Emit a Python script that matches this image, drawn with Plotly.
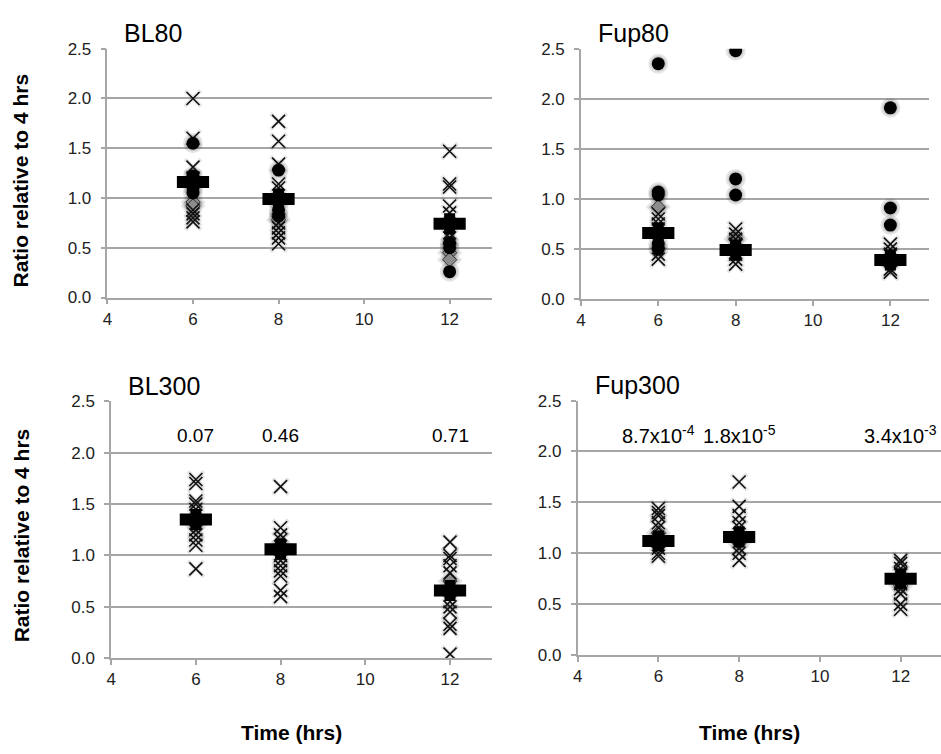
import plotly.graph_objects as go

TIMES = [6, 8, 12]
X_TICKS = [4, 6, 8, 10, 12]
Y_TICKS = [0.0, 0.5, 1.0, 1.5, 2.0, 2.5]
PANELS = ["BL80", "Fup80", "BL300", "Fup300"]

# values per time point (6, 8, 12 h)
bl80_xmark = [[2.0, 1.6, 1.31, 1.2, 0.88, 0.84, 0.8, 0.76],
              [1.77, 1.57, 1.34, 1.14, 1.1, 0.9, 0.75, 0.7, 0.65, 0.6, 0.54],
              [1.47, 1.14, 1.11, 0.92, 0.85, 0.65, 0.6]]
bl80_circ = [[1.55, 1.22, 1.1, 1.05], [1.28, 0.88, 0.82], [0.55, 0.5, 0.26]]
bl80_diam = [[0.96, 0.92], [0.95, 0.78], [0.45, 0.38]]
bl80_mean = [1.16, 0.99, 0.74]

fup80_xmark = [[0.85, 0.8, 0.75, 0.7, 0.45, 0.4],
               [0.7, 0.65, 0.6, 0.55, 0.45, 0.4, 0.35],
               [0.55, 0.5, 0.45, 0.3, 0.27]]
fup80_circ = [[2.35, 1.07, 1.04, 0.55, 0.5], [2.48, 1.2, 1.04], [1.91, 0.91, 0.74]]
fup80_diam = [[0.92], [0.6], [0.35]]
fup80_mean = [0.66, 0.49, 0.39]

bl300_xmark = [[1.74, 1.70, 1.53, 1.5, 1.45, 1.25, 1.2, 1.15, 1.1, 0.87],
               [1.67, 1.27, 1.2, 1.15, 1.0, 0.95, 0.9, 0.85, 0.8, 0.66, 0.6],
               [1.13, 1.0, 0.97, 0.9, 0.83, 0.55, 0.5, 0.45, 0.33, 0.29, 0.04]]
bl300_circ = [[], [], []]
bl300_diam = [[1.3], [1.1], [0.75]]
bl300_mean = [1.35, 1.06, 0.66]

fup300_xmark = [[1.44, 1.4, 1.37, 1.3, 1.25, 1.05, 1.0, 0.97],
                [1.7, 1.46, 1.37, 1.3, 1.25, 1.05, 1.0, 0.93],
                [0.93, 0.9, 0.85, 0.8, 0.7, 0.65, 0.6, 0.5, 0.45]]
fup300_circ = [[], [], []]
fup300_diam = [[1.2], [1.1], [0.68]]
fup300_mean = [1.12, 1.16, 0.75]

bl300_pvals = ["0.07", "0.46", "0.71"]
fup300_pvals = ["8.7x10<sup>-4</sup>", "1.8x10<sup>-5</sup>", "3.4x10<sup>-3</sup>"]
PVAL_Y = 2.17

W, H = 941, 754
# panel domains in pixels (left, right, top, bottom)
DOMS = [(103, 490, 40.7, 296), (579, 929, 40.7, 297.7),
        (106.7, 490, 402.5, 666), (575.7, 941, 401.7, 662.7)]

data_sets = [
    (bl80_xmark, bl80_circ, bl80_diam, bl80_mean),
    (fup80_xmark, fup80_circ, fup80_diam, fup80_mean),
    (bl300_xmark, bl300_circ, bl300_diam, bl300_mean),
    (fup300_xmark, fup300_circ, fup300_diam, fup300_mean),
]

FONT = "Liberation Sans, Arial, sans-serif"
GRID = "#a6a6a6"
SHADOW = "rgba(0,0,0,0.10)"

fig = go.Figure()


def flat(groups):
    xs, ys = [], []
    for t, vals in zip(TIMES, groups):
        xs += [t] * len(vals)
        ys += vals
    return xs, ys


for i, (xm, ci, di, mn) in enumerate(data_sets):
    sfx = "" if i == 0 else str(i + 1)
    xa, ya = "x" + sfx, "y" + sfx
    # soft shadow layer
    for groups, sym, sz in ((xm, "x-thin-open", 13), (ci, "circle", 13), (di, "diamond", 12)):
        xs, ys = flat(groups)
        fig.add_trace(go.Scatter(
            x=xs, y=ys, mode="markers", xaxis=xa, yaxis=ya, showlegend=False,
            hoverinfo="skip",
            marker=dict(symbol=sym, size=sz + 3, color=SHADOW,
                        line=dict(color=SHADOW, width=4))))
    xs, ys = flat(di)
    fig.add_trace(go.Scatter(x=xs, y=ys, mode="markers", xaxis=xa, yaxis=ya, showlegend=False,
                             marker=dict(symbol="diamond", size=11, color="#8c8c8c",
                                         line=dict(color="#333333", width=1))))
    xs, ys = flat(xm)
    fig.add_trace(go.Scatter(x=xs, y=ys, mode="markers", xaxis=xa, yaxis=ya, showlegend=False,
                             marker=dict(symbol="x-thin-open", size=13, color="#111111",
                                         line=dict(color="#111111", width=1.6))))
    xs, ys = flat(ci)
    fig.add_trace(go.Scatter(x=xs, y=ys, mode="markers", xaxis=xa, yaxis=ya, showlegend=False,
                             marker=dict(symbol="circle", size=13, color="#000000",
                                         line=dict(width=0))))
    # mean: thick plus, wider than tall
    fig.add_trace(go.Scatter(x=TIMES, y=mn, mode="markers", xaxis=xa, yaxis=ya, showlegend=False,
                             marker=dict(symbol="line-ns", size=15, color="#000000",
                                         line=dict(color="#000000", width=11))))
    fig.add_trace(go.Scatter(x=TIMES, y=mn, mode="markers", xaxis=xa, yaxis=ya, showlegend=False,
                             marker=dict(symbol="line-ew", size=23, color="#000000",
                                         line=dict(color="#000000", width=12))))

    l, r, t, b = DOMS[i]
    fig.layout["xaxis" + sfx] = dict(
        domain=[l / W, r / W], anchor=ya, range=[4, 13], tickvals=X_TICKS,
        showgrid=False, showline=True, linecolor=GRID, linewidth=1.5,
        ticks="outside", ticklen=5, tickcolor=GRID, tickwidth=1.5,
        tickfont=dict(family=FONT, size=17, color="#222222"), zeroline=False)
    fig.layout["yaxis" + sfx] = dict(
        domain=[1 - b / H, 1 - t / H], anchor=xa, range=[0, 2.5], tickvals=Y_TICKS,
        tickformat=".1f", showgrid=True, gridcolor=GRID, gridwidth=1.5,
        showline=True, linecolor=GRID, linewidth=1.5,
        ticks="outside", ticklen=5, tickcolor=GRID, tickwidth=1.5,
        ticklabelstandoff=6,
        tickfont=dict(family=FONT, size=17, color="#222222"), zeroline=False)

    # panel title
    fig.add_annotation(text=PANELS[i], xref="paper", yref="paper",
                       x=(l + 15) / W, y=1 - (t - 32) / H, xanchor="left", yanchor="top",
                       showarrow=False, font=dict(family=FONT, size=25, color="#000000"))

# p-value labels
for t, p in zip(TIMES, bl300_pvals):
    fig.add_annotation(text=p, x=t, y=PVAL_Y, xref="x3", yref="y3", showarrow=False,
                       xanchor="center", yanchor="middle",
                       font=dict(family=FONT, size=19, color="#000000"))
for t, p in zip(TIMES, fup300_pvals):
    fig.add_annotation(text=p, x=t, y=PVAL_Y, xref="x4", yref="y4", showarrow=False,
                       xanchor="center", yanchor="middle",
                       font=dict(family=FONT, size=20, color="#000000"))

# axis titles
for yc in (176, 540):
    fig.add_annotation(text="<b>Ratio relative to 4 hrs</b>", xref="paper", yref="paper",
                       x=16 / W, y=1 - yc / H, textangle=-90, showarrow=False,
                       xanchor="center", yanchor="middle",
                       font=dict(family=FONT, size=21, color="#000000"))
for xc in (288, 748):
    fig.add_annotation(text="<b>Time (hrs)</b>", xref="paper", yref="paper",
                       x=xc / W, y=1 - 742 / H, showarrow=False,
                       xanchor="center", yanchor="middle",
                       font=dict(family=FONT, size=21, color="#000000"))

fig.update_layout(width=W, height=H, margin=dict(l=0, r=0, t=0, b=0),
                  paper_bgcolor="white", plot_bgcolor="white")

fig.write_html("out.html")
